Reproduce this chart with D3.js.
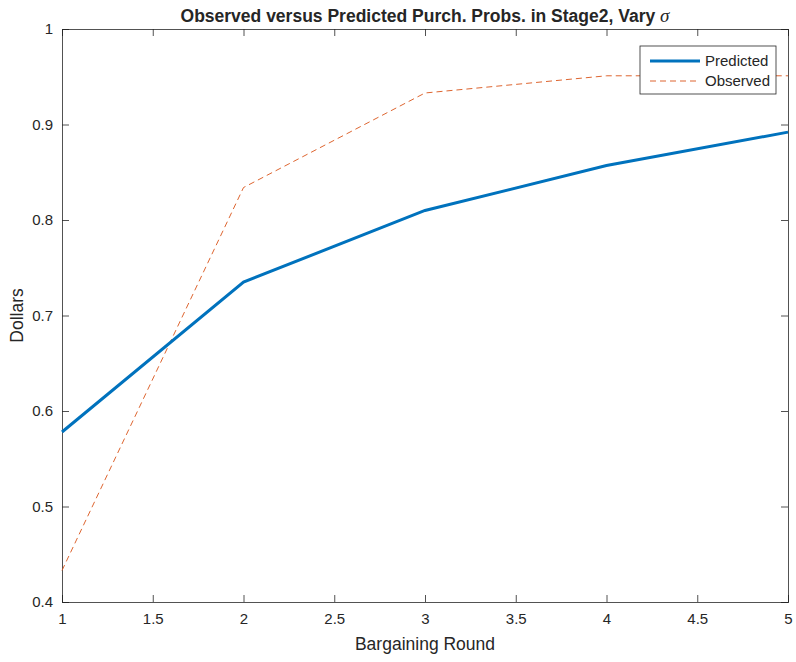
<!DOCTYPE html>
<html lang="en">
<head>
<meta charset="utf-8">
<title>Observed versus Predicted</title>
<script src="https://cdnjs.cloudflare.com/ajax/libs/d3/7.8.5/d3.min.js"></script>
<style>
body{margin:0;background:#fff;}
svg text{font-family:"Liberation Sans",Arial,Helvetica,sans-serif;fill:#262626;}
</style>
</head>
<body>
<script>
// values
var rounds = [1, 2, 3, 4, 5];
var predicted = [0.578, 0.735, 0.810, 0.857, 0.892];
var observed = [0.433, 0.834, 0.933, 0.951, 0.951];
var xTicks = [1, 1.5, 2, 2.5, 3, 3.5, 4, 4.5, 5];
var yTicks = [0.4, 0.5, 0.6, 0.7, 0.8, 0.9, 1];

var w = 796, h = 662;
var m = {left: 62, right: 8, top: 29, bottom: 60};

var svg = d3.select("body").append("svg")
    .attr("width", w).attr("height", h);

var x = d3.scaleLinear().domain([1, 5]).range([m.left, w - m.right]);
var y = d3.scaleLinear().domain([0.4, 1]).range([h - m.bottom, m.top]);

var axisColor = "#262626";
var tk = 7;

// bottom / left axes with inward ticks
var gx = svg.append("g").attr("transform", "translate(0," + (h - m.bottom) + ")")
    .call(d3.axisBottom(x).tickValues(xTicks).tickSize(-tk).tickPadding(11).tickFormat(d3.format("")));
var gy = svg.append("g").attr("transform", "translate(" + m.left + ",0)")
    .call(d3.axisLeft(y).tickValues(yTicks).tickSize(-tk).tickPadding(9).tickFormat(d3.format("")));
// top / right mirrored ticks
var gt = svg.append("g").attr("transform", "translate(0," + m.top + ")")
    .call(d3.axisTop(x).tickValues(xTicks).tickSize(-tk).tickFormat(""));
var gr = svg.append("g").attr("transform", "translate(" + (w - m.right) + ",0)")
    .call(d3.axisRight(y).tickValues(yTicks).tickSize(-tk).tickFormat(""));

[gx, gy, gt, gr].forEach(function(g){
    g.selectAll("path, line").attr("stroke", axisColor).attr("stroke-width", 0.8);
    g.selectAll("text").style("font-size", "15px").attr("fill", axisColor);
});

var line = d3.line()
    .x(function(d, i){ return x(rounds[i]); })
    .y(function(d){ return y(d); });

svg.append("path").datum(observed)
    .attr("d", line).attr("fill", "none")
    .attr("stroke", "#D95319").attr("stroke-width", 0.9)
    .attr("stroke-dasharray", "6,4");

svg.append("path").datum(predicted)
    .attr("d", line).attr("fill", "none")
    .attr("stroke", "#0072BD").attr("stroke-width", 3);

// title
var title = svg.append("text")
    .attr("x", (m.left + w - m.right) / 2).attr("y", 22)
    .attr("text-anchor", "middle")
    .style("font-size", "17.5px").style("font-weight", "bold");
title.append("tspan").text("Observed versus Predicted Purch. Probs. in Stage2, Vary ");
title.append("tspan").text("σ")
    .style("font-family", "'Liberation Serif','Times New Roman',serif")
    .style("font-style", "italic").style("font-weight", "normal").style("font-size", "19px");

// axis labels
svg.append("text")
    .attr("x", (m.left + w - m.right) / 2).attr("y", 650)
    .attr("text-anchor", "middle").style("font-size", "17.5px")
    .text("Bargaining Round");
svg.append("text")
    .attr("transform", "translate(23," + ((m.top + h - m.bottom) / 2) + ") rotate(-90)")
    .attr("text-anchor", "middle").style("font-size", "17.5px")
    .text("Dollars");

// legend
var lg = svg.append("g").attr("transform", "translate(640,46)");
lg.append("rect").attr("width", 136).attr("height", 48)
    .attr("fill", "#fff").attr("stroke", axisColor).attr("stroke-width", 0.8);
var items = [
    {name: "Predicted", color: "#0072BD", width: 3, dash: null},
    {name: "Observed", color: "#D95319", width: 0.9, dash: "6,4"}
];
items.forEach(function(it, i){
    var yy = 15 + i * 20;
    lg.append("line").attr("x1", 10).attr("x2", 60).attr("y1", yy).attr("y2", yy)
        .attr("stroke", it.color).attr("stroke-width", it.width)
        .attr("stroke-dasharray", it.dash);
    lg.append("text").attr("x", 65).attr("y", yy).attr("dy", "0.35em")
        .style("font-size", "15px").text(it.name);
});
</script>
</body>
</html>
